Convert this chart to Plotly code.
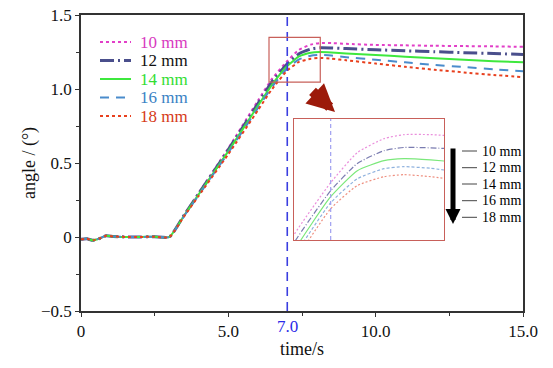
import plotly.graph_objects as go

# ---------------- data ----------------
time_s = [0, 0.2, 0.4, 0.6, 0.85, 1.1, 1.5, 2.0, 2.5, 3.0, 3.5, 4.0, 5.0, 6.0, 6.45,
          7.0, 7.4, 7.8, 8.1, 8.5, 9.0, 10.0, 11.0, 12.0, 13.0, 14.0, 15.0]

angle_10mm = [-0.015, -0.012, -0.022, -0.012, 0.008, 0.004, 0.0, 0.0, 0.002, 0.0, 0.15, 0.30, 0.60, 0.92, 1.06,
              1.19, 1.265, 1.30, 1.31, 1.31, 1.305, 1.298, 1.295, 1.292, 1.29, 1.288, 1.285]
angle_12mm = [-0.015, -0.012, -0.022, -0.012, 0.008, 0.004, 0.0, 0.0, 0.002, 0.0, 0.148, 0.295, 0.59, 0.90, 1.04,
              1.17, 1.238, 1.27, 1.278, 1.277, 1.273, 1.265, 1.258, 1.252, 1.245, 1.24, 1.233]
angle_14mm = [-0.015, -0.012, -0.022, -0.012, 0.008, 0.004, 0.0, 0.0, 0.002, 0.0, 0.145, 0.29, 0.58, 0.885, 1.02,
              1.155, 1.22, 1.245, 1.25, 1.247, 1.24, 1.23, 1.218, 1.207, 1.197, 1.188, 1.18]
angle_16mm = [-0.015, -0.012, -0.022, -0.012, 0.008, 0.004, 0.0, 0.0, 0.002, 0.0, 0.142, 0.285, 0.57, 0.87, 1.005,
              1.14, 1.20, 1.225, 1.23, 1.226, 1.215, 1.198, 1.18, 1.163, 1.148, 1.133, 1.12]
angle_18mm = [-0.015, -0.012, -0.022, -0.012, 0.008, 0.004, 0.0, 0.0, 0.002, 0.0, 0.14, 0.28, 0.56, 0.855, 0.99,
              1.125, 1.183, 1.205, 1.21, 1.205, 1.194, 1.172, 1.15, 1.13, 1.112, 1.095, 1.08]

series_names = ["10 mm", "12 mm", "14 mm", "16 mm", "18 mm"]
series_values = [angle_10mm, angle_12mm, angle_14mm, angle_16mm, angle_18mm]

x_tick_vals = [0, 5, 10, 15]
x_tick_text = ["0", "5.0", "10.0", "15.0"]
x_minor_vals = [2.5, 7.5, 12.5]
y_tick_vals = [-0.5, 0, 0.5, 1.0, 1.5]
y_tick_text = ["\u22120.5", "0", "0.5", "1.0", "1.5"]
y_minor_vals = [-0.25, 0.25, 0.75, 1.25]

marker_time = 7.0
zoom_x = [6.38, 8.12]
zoom_y = [1.047, 1.349]
inset_x_range = [6.45, 8.7]
inset_y_range = [1.047, 1.349]

# ---------------- styles ----------------
line_colors = ["#e23fc8", "#4a4f8c", "#3ee83e", "#4a8ccc", "#e8401e"]
text_colors = ["#d83ac0", "#111111", "#33dd33", "#3a82c4", "#d63a18"]
line_dash = ["3px,3px", "14px,4px,2px,4px", "solid", "9px,7px", "3px,3px"]
line_width = [2, 3, 2, 2, 2]
inset_colors = ["#ea8edc", "#7a7cb0", "#7be87b", "#8fb2de", "#ee9080"]
inset_dash = ["2px,2px", "6px,2px,1px,2px", "solid", "3px,2px", "2px,2px"]

FONT = "Times New Roman, Liberation Serif, DejaVu Serif, serif"
W, H = 553, 368
L, R, T, B = 81, 30, 15, 57
PW, PH = W - L - R, H - T - B


def px_x(p):
    return (p - L) / PW


def px_y(p):
    return (H - B - p) / PH


fig = go.Figure()

for name, vals, c, d, w in zip(series_names, series_values, line_colors, line_dash, line_width):
    fig.add_trace(go.Scatter(
        x=time_s, y=vals, mode="lines", name=name, showlegend=False,
        line=dict(color=c, dash=d, width=w, shape="spline", smoothing=0.5),
        xaxis="x", yaxis="y"))

for name, vals, c, d in zip(series_names, series_values, inset_colors, inset_dash):
    fig.add_trace(go.Scatter(
        x=time_s, y=vals, mode="lines", showlegend=False,
        line=dict(color=c, dash=d, width=1.2, shape="spline", smoothing=0.5),
        xaxis="x2", yaxis="y2"))

axis_font = dict(family=FONT, size=17, color="#111")
title_font = dict(family=FONT, size=18, color="#111")

fig.update_layout(
    width=W, height=H,
    margin=dict(l=L, r=R, t=T, b=B, autoexpand=False),
    paper_bgcolor="white", plot_bgcolor="white",
    font=dict(family=FONT, size=16, color="black"),
    showlegend=False,
    xaxis=dict(domain=[0, 1], range=[0, 15], tickvals=x_tick_vals, ticktext=x_tick_text,
               ticks="outside", ticklen=4, tickwidth=1, tickcolor="#333",
               minor=dict(tickvals=x_minor_vals, ticks="outside", ticklen=3, tickcolor="#333"),
               showline=True, linecolor="#333", linewidth=1.5, mirror=True, automargin=False,
               showgrid=False, zeroline=False, tickfont=axis_font,
               title=dict(text="time/s", font=title_font, standoff=2)),
    yaxis=dict(domain=[0, 1], range=[-0.5, 1.5], tickvals=y_tick_vals, ticktext=y_tick_text,
               ticks="outside", ticklen=4, tickwidth=1, tickcolor="#333",
               minor=dict(tickvals=y_minor_vals, ticks="outside", ticklen=3, tickcolor="#333"),
               showline=True, linecolor="#333", linewidth=1.5, mirror=True, automargin=False,
               showgrid=False, zeroline=False, tickfont=axis_font,
               title=dict(text="angle / (°)", font=title_font, standoff=1)),
    xaxis2=dict(domain=[px_x(294), px_x(444)], anchor="y2", range=inset_x_range,
                showticklabels=False, ticks="", showgrid=False, zeroline=False, automargin=False,
                showline=True, linecolor="#c8605a", linewidth=1.2, mirror=True),
    yaxis2=dict(domain=[px_y(240), px_y(119)], anchor="x2", range=inset_y_range,
                showticklabels=False, ticks="", showgrid=False, zeroline=False, automargin=False,
                showline=True, linecolor="#c8605a", linewidth=1.2, mirror=True),
)

# legend (drawn manually to match the tight spacing)
legend_y = [42, 60.5, 79, 97.5, 116]
for name, ly, c, tc, d, w in zip(series_names, legend_y, line_colors, text_colors, line_dash, line_width):
    fig.add_shape(type="line", xref="paper", yref="paper", x0=px_x(100), x1=px_x(131),
                  y0=px_y(ly), y1=px_y(ly), line=dict(color=c, width=w, dash=d))
    fig.add_annotation(x=px_x(138), y=px_y(ly), xref="paper", yref="paper", xanchor="left",
                       yanchor="middle", text=name, showarrow=False,
                       font=dict(family=FONT, size=17, color=tc))

# vertical marker lines
fig.add_shape(type="line", xref="x", yref="y domain", x0=marker_time, x1=marker_time, y0=0, y1=1,
              line=dict(color="#3a3ee0", width=1.6, dash="9px,6px"), layer="above")
fig.add_shape(type="line", xref="x2", yref="y2 domain", x0=marker_time, x1=marker_time, y0=0, y1=1,
              line=dict(color="#a0a0f0", width=1.2, dash="4px,3px"), layer="above")
# zoom box on main plot
fig.add_shape(type="rect", xref="x", yref="y", x0=zoom_x[0], x1=zoom_x[1], y0=zoom_y[0], y1=zoom_y[1],
              line=dict(color="#c8605a", width=1.2))

# "7.0" tick label in blue
fig.add_annotation(x=marker_time, xref="x", y=0, yref="paper", yanchor="top", yshift=-4,
                   text="7.0", showarrow=False, font=dict(family=FONT, size=17, color="#2a2ae8"))

# dark red arrow pointing to the inset
fig.add_annotation(x=px_x(335), y=px_y(112), xref="paper", yref="paper",
                   ax=-24, ay=-22, axref="pixel", ayref="pixel", text="",
                   showarrow=True, arrowhead=2, arrowsize=0.55, arrowwidth=10, arrowcolor="#9c1a0a")

# black arrow for the inset key
fig.add_annotation(x=px_x(453), y=px_y(224), xref="paper", yref="paper",
                   ax=0, ay=-77, axref="pixel", ayref="pixel", text="",
                   showarrow=True, arrowhead=2, arrowsize=0.6, arrowwidth=5, arrowcolor="black")

key_y = [151, 167.7, 184, 200.7, 217.3]
for name, ky in zip(series_names, key_y):
    fig.add_shape(type="line", xref="paper", yref="paper", x0=px_x(462), x1=px_x(477),
                  y0=px_y(ky), y1=px_y(ky), line=dict(color="#444", width=1))
    fig.add_annotation(x=px_x(480), y=px_y(ky), xref="paper", yref="paper", xanchor="left",
                       yanchor="middle", text=name, showarrow=False,
                       font=dict(family=FONT, size=14, color="black"))

fig.write_html("out.html", config={"displayModeBar": False},
               post_script="document.body.style.margin='0';document.body.style.padding='0';")
